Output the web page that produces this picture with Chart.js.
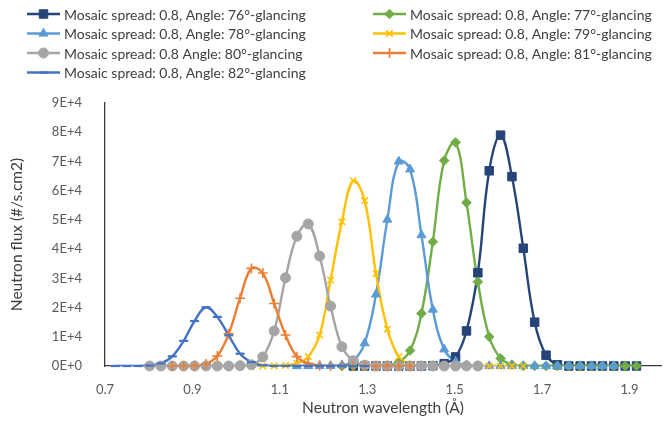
<!DOCTYPE html>
<html>
<head>
<meta charset="utf-8">
<script src="https://cdn.jsdelivr.net/npm/chart.js@4.4.1/dist/chart.umd.min.js"></script>
<style>
  html, body { margin: 0; padding: 0; background: #fff; }
  #wrap { width: 668px; height: 421px; }
</style>
</head>
<body>
<div id="wrap"><canvas id="chart" width="668" height="421"></canvas></div>
<script>
// -------------------------
// Data (wavelength grid shared by every series, Å)
// -------------------------
const wavelength = [0.724, 0.750, 0.776, 0.802, 0.828, 0.854, 0.880, 0.905, 0.931, 0.957,
    0.983, 1.009, 1.035, 1.061, 1.087, 1.113, 1.139, 1.165, 1.191, 1.216,
    1.242, 1.268, 1.294, 1.320, 1.346, 1.372, 1.398, 1.424, 1.450, 1.476,
    1.502, 1.527, 1.553, 1.579, 1.605, 1.631, 1.657, 1.683, 1.709, 1.735,
    1.761, 1.787, 1.813, 1.838, 1.864, 1.890, 1.916];

const n = null;
// neutron flux (#/s.cm2), one value per wavelength, null = not measured
const flux76 = [n, n, n, n, n, n, n, n, n, n, n, n, n, n, n, n, n, n, n, n, n,
    0, 0, 0, 0, 0, 0, 0, 100, 800, 3100, 12000, 31900, 66800, 79000, 64800, 40300, 15000, 3700, 400,
    0, 0, 0, 0, 0, 0, 0];
const flux77 = [n, n, n, n, n, n, n, n, n, n, n, n, n, n, n, n, n, n, n, n,
    0, 0, 0, 50, 250, 1300, 5300, 18000, 42500, 70300, 76500, 55900, 28800, 10000, 2600, 500, 50,
    0, 0, 0, 0, 0, 0, 0, 0, 0, 0];
const flux78 = [n, n, n, n, n, n, n, n, n, n, n, n, n, n, n, n,
    0, 0, 0, 50, 300, 1700, 7800, 24500, 50100, 70000, 67300, 44800, 19300, 5700, 1500, 300,
    0, 0, 0, 0, 0, 0, 0, 0, 0, 0, 0, 0, 0, n, n];
const flux79 = [n, n, n, n, n, n, n, n, n, n, n, n,
    0, 0, 0, 150, 900, 3200, 10600, 29400, 49400, 63400, 56600, 31600, 12600, 3200, 500, 50,
    0, 0, 0, 0, 0, 0, 0, 0, 0, n, n, n, n, n, n, n, n, n, n];
const flux80 = [n, n, n,
    0, 0, 0, 0, 0, 0, 0, 0, 100, 400, 3100, 12000, 30200, 44400, 48600, 37600, 20500, 6600, 1800, 300,
    0, 0, 0, 0, 0, 0, 0, 0, 0, 0, n, n, n, n, n, n, n, n, n, n, n, n, n, n];
const flux81 = [n, n, n, n, n,
    0, 0, 100, 700, 3400, 11000, 23200, 33400, 31800, 21400, 10600, 3200, 900, 150,
    0, 0, 0, 0, 0, 0, 0, 0, n, n, n, n, n, n, n, n, n, n, n, n, n, n, n, n, n, n, n, n];
const flux82 = [0, 0, 0, 150, 900, 3300, 8600, 15400, 20100, 16800, 10500, 4200, 1300, 250,
    0, 0, 0, 0, 0, 0, 0, 0, 0, n, n, n, n, n, n, n, n, n, n, n, n, n, n, n, n, n, n, n, n, n, n, n, n];

const seriesNames = [
    'Mosaic spread: 0.8, Angle: 76°-glancing',
    'Mosaic spread: 0.8, Angle: 77°-glancing',
    'Mosaic spread: 0.8, Angle: 78°-glancing',
    'Mosaic spread: 0.8, Angle: 79°-glancing',
    'Mosaic spread: 0.8 Angle: 80°-glancing',
    'Mosaic spread: 0.8, Angle: 81°-glancing',
    'Mosaic spread: 0.8, Angle: 82°-glancing'
];
const seriesValues = [flux76, flux77, flux78, flux79, flux80, flux81, flux82];

const xTicks = [0.7, 0.9, 1.1, 1.3, 1.5, 1.7, 1.9];
const yTicks = [0, 10000, 20000, 30000, 40000, 50000, 60000, 70000, 80000, 90000];
const yTickLabels = ['0E+0', '1E+4', '2E+4', '3E+4', '4E+4', '5E+4', '6E+4', '7E+4', '8E+4', '9E+4'];

// -------------------------
// Styles
// -------------------------
const seriesColors = ['#264478', '#70AD47', '#5B9BD5', '#FFC000', '#A5A5A5', '#ED7D31', '#4472C4'];
const markerStyles = ['rect', 'rectRot', 'triangle', 'crossRot', 'circle', 'cross', 'line'];
const markerSizes = [6, 4.8, 5.2, 4.5, 5, 5, 4.5];
const markerBorders = [1, 1, 1, 1.6, 1, 1.6, 2.2];

function points(values) {
    return wavelength
        .map((x, i) => ({ x: x, y: values[i] }))
        .filter(p => p.y !== null);
}

// Excel draws every line first, markers on top
const datasets = [];
seriesValues.forEach((values, i) => {
    datasets.push({
        label: seriesNames[i],
        data: points(values),
        borderColor: seriesColors[i],
        borderWidth: 2.4,
        tension: 0.4,
        pointRadius: 0,
        pointHoverRadius: 0,
        order: 20 - i
    });
    datasets.push({
        label: seriesNames[i] + ' markers',
        data: points(values),
        showLine: false,
        pointStyle: markerStyles[i],
        pointRadius: markerSizes[i],
        pointHoverRadius: markerSizes[i],
        pointBorderWidth: markerBorders[i],
        pointBackgroundColor: seriesColors[i],
        pointBorderColor: seriesColors[i],
        clip: false,
        order: 10 - i
    });
});

// -------------------------
// Legend (two columns, like the spreadsheet)
// -------------------------
const legendCols = [27, 373];
const legendRows = [14, 33.5, 53, 72.5];

const legendPlugin = {
    id: 'twoColLegend',
    afterDraw(chart) {
        const ctx = chart.ctx;
        ctx.save();
        ctx.font = '14px Lato, sans-serif';
        ctx.textBaseline = 'middle';
        seriesNames.forEach((name, i) => {
            const x = legendCols[i % 2];
            const y = legendRows[Math.floor(i / 2)];
            ctx.strokeStyle = seriesColors[i];
            ctx.fillStyle = seriesColors[i];
            ctx.lineWidth = 2.4;
            ctx.beginPath();
            ctx.moveTo(x, y);
            ctx.lineTo(x + 33, y);
            ctx.stroke();
            ctx.lineWidth = markerBorders[i];
            Chart.helpers.drawPoint(ctx, {
                pointStyle: markerStyles[i],
                radius: markerSizes[i],
                borderWidth: markerBorders[i],
                rotation: 0
            }, x + 16.5, y);
            ctx.fillStyle = '#404040';
            ctx.fillText(name, x + 37, y + 1);
        });
        ctx.restore();
    }
};

// -------------------------
// Chart
// -------------------------
Chart.defaults.font.family = 'Lato, sans-serif';

new Chart(document.getElementById('chart'), {
    type: 'line',
    data: { datasets: datasets },
    plugins: [legendPlugin],
    options: {
        responsive: false,
        animation: false,
        events: [],
        layout: { padding: { top: 103, left: 0, right: 0, bottom: 0 } },
        plugins: {
            legend: { display: false },
            tooltip: { enabled: false }
        },
        scales: {
            x: {
                type: 'linear',
                min: 0.7,
                max: 1.972,
                afterBuildTicks: axis => { axis.ticks = xTicks.map(v => ({ value: v })); },
                afterFit: axis => { axis.height = 55; },
                grid: { display: false },
                border: { display: true, color: '#3a3a3a', width: 1.3 },
                ticks: {
                    padding: 8,
                    color: '#595959',
                    font: { size: 13 },
                    callback: v => v.toFixed(1)
                },
                title: {
                    display: true,
                    text: 'Neutron wavelength (Å)',
                    color: '#404040',
                    font: { size: 15.5 },
                    padding: { top: 0, bottom: 4 }
                }
            },
            y: {
                min: 0,
                max: 90000,
                afterBuildTicks: axis => { axis.ticks = yTicks.map(v => ({ value: v })); },
                afterFit: axis => { axis.width = 105; },
                grid: { display: false },
                border: { display: true, color: '#3a3a3a', width: 1.3 },
                ticks: {
                    padding: 15,
                    color: '#595959',
                    font: { size: 13 },
                    callback: v => yTickLabels[yTicks.indexOf(v)]
                },
                title: {
                    display: true,
                    text: 'Neutron flux (#/s.cm2)',
                    color: '#404040',
                    font: { size: 15.5 },
                    padding: { top: 8, bottom: 0 }
                }
            }
        }
    }
});
</script>
</body>
</html>
